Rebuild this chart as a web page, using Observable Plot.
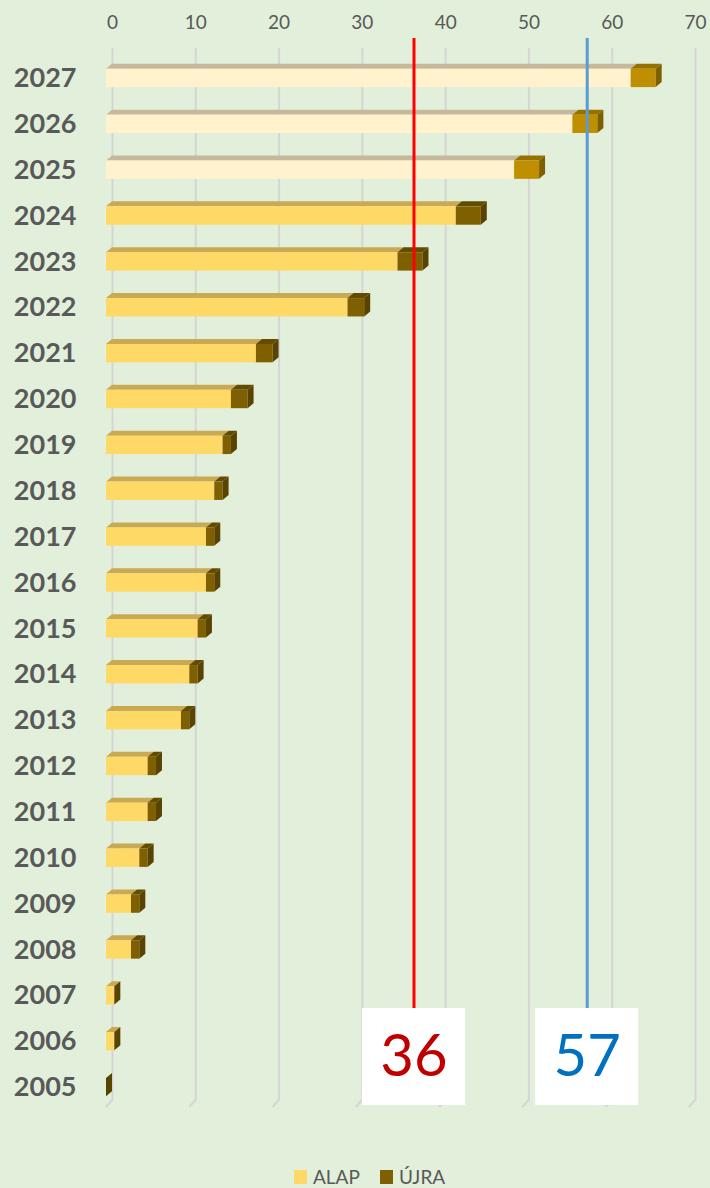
<!DOCTYPE html>
<html>
<head>
<meta charset="utf-8">
<script src="https://cdn.jsdelivr.net/npm/d3@7"></script>
<script src="https://cdn.jsdelivr.net/npm/@observablehq/plot@0.6"></script>
<style>
  html, body { margin: 0; padding: 0; background: #E2EFDA; }
  #wrap { position: relative; width: 710px; height: 1188px; overflow: hidden; background: #E2EFDA; font-family: Lato, "Open Sans", sans-serif; }
  #legend { position: absolute; left: 294px; top: 1167px; display: flex; align-items: center; font-size: 19px; line-height: 19px; color: #595959; }
  #legend .sw { display: inline-block; width: 13px; height: 14px; margin-right: 6px; }
  #legend .item { display: flex; align-items: center; margin-right: 20px; }
</style>
</head>
<body>
<div id="wrap"><div id="chart"></div><div id="legend"></div></div>
<script>
// ---- data ----
const years = [2027, 2026, 2025, 2024, 2023, 2022, 2021, 2020, 2019, 2018, 2017, 2016, 2015, 2014, 2013, 2012, 2011, 2010, 2009, 2008, 2007, 2006, 2005];
const alap  = [63, 56, 49, 42, 35, 29, 18, 15, 14, 13, 12, 12, 11, 10, 9, 5, 5, 4, 3, 3, 1, 1, 0];
const ujra  = [3, 3, 3, 3, 3, 2, 2, 2, 1, 1, 1, 1, 1, 1, 1, 1, 1, 1, 1, 1, 0, 0, 0];
const projectedYears = [2027, 2026, 2025];
const series = ["ALAP", "ÚJRA"];
const xTicks = [0, 10, 20, 30, 40, 50, 60, 70];
const markerPos = [36.2, 57];
const markerLabels = ["36", "57"];

// ---- styles ----
const colors = {
  ALAP: { front: "#FFD966", top: "#C9AA52", side: "#A88A35" },
  ÚJRA: { front: "#7F6000", top: "#634B00", side: "#594300" },
  ALAP_p: { front: "#FFF2CC", top: "#C5B89B", side: "#A89C80" },
  ÚJRA_p: { front: "#BF8F00", top: "#977100", side: "#7F6000" }
};
const markerColors = ["#C00000", "#0070C0"];
const lineColors = ["#FF0000", "#5B9BD5"];
const DX = 6, DY = 5, H = 0.2;

const rows = years.flatMap((y, i) => {
  const p = projectedYears.includes(y);
  return [
    { year: y, s: "ALAP", x1: 0, x2: alap[i], p },
    { year: y, s: "ÚJRA", x1: alap[i], x2: alap[i] + ujra[i], p }
  ];
});
const col = d => colors[d.s + (d.p ? "_p" : "")];
const ends = rows.filter(d => d.s === "ÚJRA");

function polyMark(data, pointsFn, fillFn) {
  return Plot.rect(data, {
    x1: "x1", x2: "x2", y1: d => d.year - H, y2: d => d.year + H,
    render: (index, scales) => {
      const g = d3.create("svg:g");
      for (const i of index) {
        const d = data[i];
        g.append("polygon")
          .attr("points", pointsFn(d, scales).map(p => p.join(",")).join(" "))
          .attr("fill", fillFn(d));
      }
      return g.node();
    }
  });
}

const topFace = (d, s) => {
  const xa = s.x(d.x1) - DX, xb = s.x(d.x2) - DX, yt = s.y(d.year + H);
  return [[xa, yt], [xb, yt], [xb + DX, yt - DY], [xa + DX, yt - DY]];
};
const sideFace = (d, s) => {
  const xb = s.x(d.x2) - DX, yt = s.y(d.year + H), yb = s.y(d.year - H);
  return [[xb, yt], [xb + DX, yt - DY], [xb + DX, yb - DY], [xb, yb]];
};

const W = 710, HT = 1166;
const gridBottom = 1101, boxTop = 1008, boxBottom = 1105, boxW = 103;

const chart = Plot.plot({
  width: W, height: HT,
  marginTop: 0, marginBottom: 0, marginLeft: 0, marginRight: 0,
  style: { background: "transparent", fontFamily: "Lato, 'Open Sans', sans-serif" },
  x: { domain: [0, 70], range: [112, 695], axis: null },
  y: { domain: [2004.5, 2027.5], range: [1110, 55], axis: null },
  marks: [
    // gridlines
    Plot.ruleX(xTicks, { x: d => d, stroke: "#D5D5D5", strokeWidth: 2, insetTop: 48, insetBottom: HT - gridBottom }),
    Plot.ruleX(xTicks, {
      x: d => d,
      render: (index, scales) => {
        const g = d3.create("svg:g");
        for (const i of index) {
          const x = scales.x(xTicks[i]);
          g.append("line").attr("x1", x).attr("y1", gridBottom - 1).attr("x2", x - DX).attr("y2", gridBottom + 6)
            .attr("stroke", "#D5D5D5").attr("stroke-width", 2);
        }
        return g.node();
      }
    }),
    // bars
    polyMark(rows, topFace, d => col(d).top),
    Plot.rect(rows, { x1: "x1", x2: "x2", y1: d => d.year - H, y2: d => d.year + H, dx: -DX, fill: d => col(d).front }),
    polyMark(ends, sideFace, d => col(d).side),
    // marker lines
    Plot.ruleX(markerPos, { x: d => d, stroke: (d, i) => lineColors[i], strokeWidth: 3, insetTop: 38, insetBottom: HT - boxTop }),
    // marker boxes
    Plot.ruleX(markerPos, {
      x: d => d,
      render: (index, scales) => {
        const g = d3.create("svg:g");
        for (const i of index) {
          const x = scales.x(markerPos[i]);
          g.append("rect").attr("x", x - boxW / 2).attr("y", boxTop).attr("width", boxW).attr("height", boxBottom - boxTop).attr("fill", "#FFFFFF");
        }
        return g.node();
      }
    }),
    Plot.text(markerPos, { x: d => d, text: (d, i) => markerLabels[i], fill: (d, i) => markerColors[i], frameAnchor: "top", lineAnchor: "middle", dy: 1057, fontSize: 58 }),
    // axis labels
    Plot.text(xTicks, { x: d => d, text: d => String(d), frameAnchor: "top", lineAnchor: "middle", dy: 22, fontSize: 19, fill: "#595959" }),
    Plot.text(years, { y: d => d, text: d => String(d), frameAnchor: "left", dx: 76, textAnchor: "end", fontSize: 27, fontWeight: "bold", fill: "#595959" })
  ]
});
document.getElementById("chart").appendChild(chart);

const legend = document.getElementById("legend");
series.forEach(s => {
  const item = document.createElement("div");
  item.className = "item";
  item.innerHTML = `<span class="sw" style="background:${colors[s].front}"></span><span>${s}</span>`;
  legend.appendChild(item);
});
</script>
</body>
</html>
